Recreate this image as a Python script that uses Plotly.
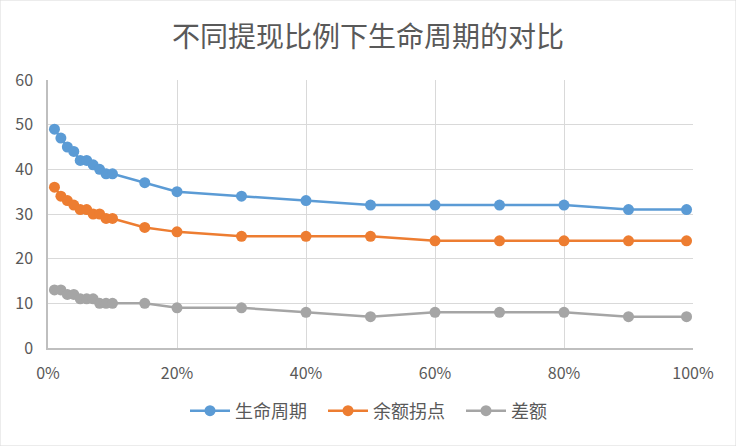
import plotly.graph_objects as go

x_vals = [0.01, 0.02, 0.03, 0.04, 0.05, 0.06, 0.07, 0.08, 0.09, 0.10,
          0.15, 0.20, 0.30, 0.40, 0.50, 0.60, 0.70, 0.80, 0.90, 0.99]
life_cycle = [49, 47, 45, 44, 42, 42, 41, 40, 39, 39, 37, 35, 34, 33, 32, 32, 32, 32, 31, 31]
turn_point = [36, 34, 33, 32, 31, 31, 30, 30, 29, 29, 27, 26, 25, 25, 25, 24, 24, 24, 24, 24]
diff_vals = [13, 13, 12, 12, 11, 11, 11, 10, 10, 10, 10, 9, 9, 8, 7, 8, 8, 8, 7, 7]

series = [("生命周期", life_cycle, "#5b9bd5"),
          ("余额拐点", turn_point, "#ed7d31"),
          ("差额", diff_vals, "#a5a5a5")]

font_family = "Noto Sans CJK SC, Microsoft YaHei, sans-serif"

fig = go.Figure()
for name, vals, color in series:
    fig.add_trace(go.Scatter(
        x=x_vals, y=vals, name=name, mode="lines+markers",
        line=dict(color=color, width=2.5),
        marker=dict(color=color, size=11),
    ))

fig.update_layout(
    width=736, height=446,
    paper_bgcolor="white", plot_bgcolor="white",
    margin=dict(l=48, r=43, t=80, b=98),
    title=dict(text="不同提现比例下生命周期的对比", x=0.5, xanchor="center",
               y=0.917, yanchor="middle",
               font=dict(family=font_family, size=28, color="#595959")),
    font=dict(family=font_family, size=16, color="#595959"),
    xaxis=dict(range=[0, 1], tickvals=[0, 0.2, 0.4, 0.6, 0.8, 1.0],
               tickformat=".0%", showgrid=True, gridcolor="#d9d9d9", gridwidth=1,
               showline=True, linecolor="#bfbfbf", linewidth=1.5,
               zeroline=False, ticks="", ticklabelstandoff=10,
               tickfont=dict(size=16, color="#595959")),
    yaxis=dict(range=[0, 60], dtick=10, showgrid=True, gridcolor="#d9d9d9", gridwidth=1,
               showline=True, linecolor="#bfbfbf", linewidth=1.5,
               zeroline=False, ticks="", ticklabelstandoff=10,
               tickfont=dict(size=16, color="#595959")),
    legend=dict(orientation="h", x=(185 - 48) / 645, xanchor="left", y=-0.235, yanchor="middle",
                font=dict(size=18, color="#595959"), itemwidth=40,
                entrywidth=83, entrywidthmode="pixels"),
    showlegend=True,
)

fig.add_shape(type="rect", xref="paper", yref="paper",
              x0=-48/645, x1=1+43/645, y0=-98/268, y1=1+80/268,
              line=dict(color="#d9d9d9", width=1), layer="below")

fig.write_html("out.html")
